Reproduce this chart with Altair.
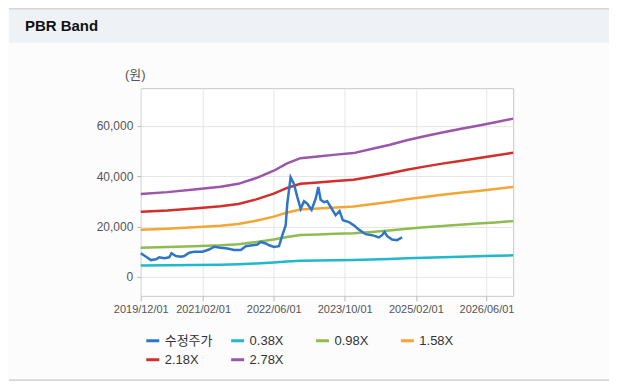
import altair as alt
import pandas as pd

# ---- data ----
band_dates = ["2019-12-01", "2020-06-01", "2020-12-01", "2021-06-01", "2021-10-01",
              "2022-02-01", "2022-06-01", "2022-09-01", "2022-12-01", "2023-04-01",
              "2023-08-01", "2023-12-01", "2024-04-01", "2024-08-01", "2024-12-01",
              "2025-04-01", "2025-08-01", "2025-12-01", "2026-04-01", "2026-08-01",
              "2026-12-01"]
band_038 = [4510, 4610, 4740, 4890, 5060, 5370, 5770, 6160, 6450, 6550, 6640,
            6730, 6940, 7160, 7420, 7640, 7850, 8040, 8220, 8410, 8600]
band_098 = [11630, 11880, 12230, 12620, 13040, 13860, 14880, 15900, 16640, 16890, 17130,
            17350, 17900, 18470, 19140, 19710, 20240, 20730, 21190, 21680, 22180]
band_158 = [18750, 19150, 19720, 20350, 21030, 22340, 23980, 25630, 26830, 27220, 27620,
            27970, 28870, 29780, 30860, 31770, 32630, 33420, 34160, 34950, 35760]
band_218 = [25880, 26420, 27210, 28080, 29020, 30830, 33090, 35360, 37020, 37560, 38110,
            38590, 39830, 41090, 42580, 43840, 45020, 46110, 47130, 48220, 49330]
band_278 = [33000, 33700, 34700, 35800, 37000, 39300, 42200, 45100, 47200, 47900, 48600,
            49200, 50800, 52400, 54300, 55900, 57400, 58800, 60100, 61500, 62900]

price_dates = ["2019-12-01", "2020-01-06", "2020-02-09", "2020-03-14", "2020-04-06",
               "2020-05-10", "2020-06-13", "2020-06-29", "2020-07-29", "2020-09-02",
               "2020-09-24", "2020-10-28", "2020-12-02", "2021-01-28", "2021-03-14",
               "2021-04-18", "2021-06-03", "2021-07-18", "2021-09-02", "2021-10-18",
               "2021-11-21", "2022-01-05", "2022-02-09", "2022-03-04", "2022-04-07",
               "2022-05-01", "2022-06-03", "2022-07-07", "2022-07-30", "2022-08-22",
               "2022-09-02", "2022-09-25", "2022-10-18", "2022-11-10", "2022-12-03",
               "2022-12-26", "2023-01-17", "2023-02-16", "2023-03-16", "2023-04-03",
               "2023-04-19", "2023-05-12", "2023-06-03", "2023-06-27", "2023-07-31",
               "2023-08-27", "2023-09-19", "2023-10-30", "2023-12-03", "2024-01-07",
               "2024-02-22", "2024-04-07", "2024-05-23", "2024-06-14", "2024-07-01",
               "2024-07-19", "2024-08-22", "2024-09-25", "2024-10-29"]
price_values = [9400, 8000, 6700, 7000, 7800, 7400, 7800, 9400, 8300, 8000,
                8300, 9600, 10000, 10000, 10900, 12000, 11600, 11300, 10700, 10700,
                12200, 12600, 12900, 13900, 13300, 12600, 11900, 12200, 16600, 20500,
                29100, 39600, 37000, 31700, 27100, 30100, 29100, 26700, 31100, 35700,
                30700, 29700, 30100, 27800, 24500, 26200, 22500, 21800, 20500, 18800,
                17000, 16600, 15700, 16600, 17900, 16200, 14900, 14600, 15700]

series_names = ["수정주가", "0.38X", "0.98X", "1.58X", "2.18X", "2.78X"]
series_colors = ["#2f75c7", "#1fb8cc", "#8dbd50", "#f5a534", "#d02f2b", "#9b56a9"]

x_ticks = ["2019-12-01", "2021-02-01", "2022-06-01", "2023-10-01", "2025-02-01", "2026-06-01"]
x_domain = ["2019-12-01", "2026-12-01"]
y_ticks = [0, 20000, 40000, 60000]
y_domain = [-7500, 75000]

# ---- tables ----
band_rows = []
for name, vals in zip(series_names[1:], [band_038, band_098, band_158, band_218, band_278]):
    for d, v in zip(band_dates, vals):
        band_rows.append({"date": d, "value": v, "series": name})
bands_df = pd.DataFrame(band_rows)
price_df = pd.DataFrame({"date": price_dates, "value": price_values,
                         "series": series_names[0]})


def dt(s):
    y, m, d = (int(p) for p in s.split("-"))
    return alt.DateTime(year=y, month=m, date=d, utc=True)


W, H = 373, 208
LAT = "Liberation Sans"
KR = "Liberation Sans, Noto Sans CJK KR"

x_enc = alt.X("date:T",
              scale=alt.Scale(type="utc", domain=[dt(s) for s in x_domain], nice=False),
              axis=alt.Axis(values=[dt(s) for s in x_ticks], format="%Y/%m/%d",
                            title=None, labelFontSize=11, labelColor="#555555",
                            labelFont=LAT, labelOverlap=False, tickSize=5,
                            labelPadding=3, tickColor="#bbbbbb", grid=True,
                            gridColor="#e6e6e6", domain=False, labelFlush=False))
y_enc = alt.Y("value:Q",
              scale=alt.Scale(domain=y_domain, nice=False, zero=False),
              axis=alt.Axis(values=y_ticks, format=",d", title="(원)", titleAngle=0,
                            titleX=-6, titleY=-14, titleAlign="center",
                            titleBaseline="middle", titleFont=KR, titleFontSize=13,
                            titleFontWeight="normal", titleColor="#555555",
                            labelFontSize=12, labelColor="#555555", labelFont=LAT,
                            tickSize=4, labelPadding=4, tickColor="#bbbbbb",
                            grid=True, gridColor="#e6e6e6", domain=False))
color_enc = alt.Color("series:N",
                      scale=alt.Scale(domain=series_names, range=series_colors),
                      legend=alt.Legend(title=None, orient="none", legendX=4, legendY=245,
                                        direction="horizontal", columns=4, gridAlign="all",
                                        symbolType="stroke", symbolStrokeWidth=3,
                                        symbolSize=169, labelFontSize=13,
                                        labelColor="#333333", labelFont=KR,
                                        labelOffset=4, columnPadding=12, rowPadding=4,
                                        padding=0))

one = alt.Data(values=[{"k": 1}])

header = alt.Chart(one).mark_rect(color="#eef2f7").encode(
    x=alt.value(-132), x2=alt.value(469), y=alt.value(-80), y2=alt.value(-45.5))
top_line = alt.Chart(one).mark_rule(color="#d6d6d6", strokeWidth=1.5).encode(
    x=alt.value(-132), x2=alt.value(469), y=alt.value(-79.5))
bottom_line = alt.Chart(one).mark_rule(color="#d6d6d6", strokeWidth=2).encode(
    x=alt.value(-132), x2=alt.value(469), y=alt.value(292.5))
title = alt.Chart(one).mark_text(text="PBR Band", font=LAT, fontSize=15,
                                 fontWeight="bold", color="#111111", align="left",
                                 baseline="middle").encode(
    x=alt.value(-116), y=alt.value(-62))

bands = alt.Chart(bands_df).mark_line(strokeWidth=2.5).encode(
    x=x_enc, y=y_enc, color=color_enc)
price = alt.Chart(price_df).mark_line(strokeWidth=2.5).encode(
    x=x_enc, y=y_enc, color=color_enc)

chart = alt.layer(header, top_line, bottom_line, title, bands, price).properties(
    width=W, height=H,
    autosize=alt.AutoSizeParams(type="none"),
    padding={"left": 133, "top": 80, "right": 96, "bottom": 85},
    background="#fcfcfc",
).configure_view(fill="white", stroke="#c8c8c8", strokeWidth=1)

chart.save("out.html", embed_options={"renderer": "svg", "actions": False})
